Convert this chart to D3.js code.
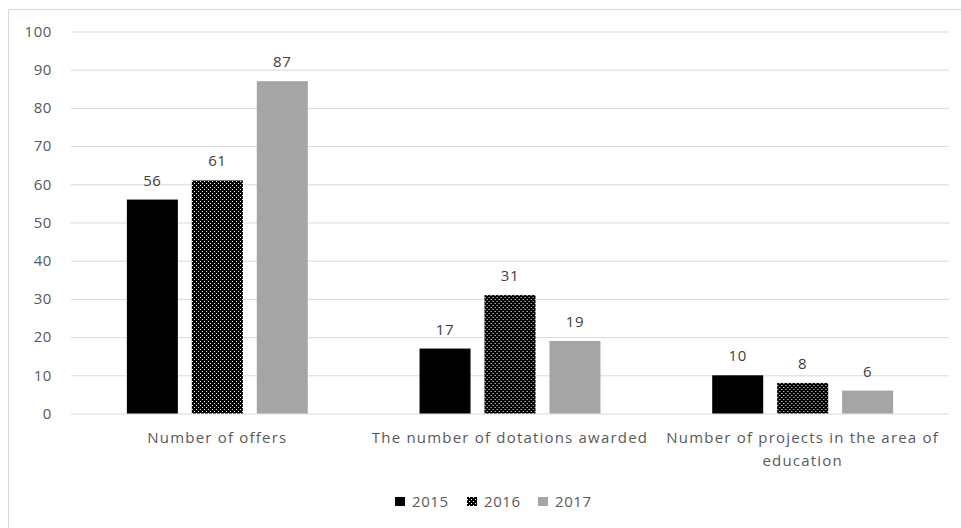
<!DOCTYPE html>
<html><head><meta charset="utf-8">
<script src="https://cdn.jsdelivr.net/npm/d3@7"></script>
<style>body{margin:0;background:#fff}svg text{font-family:"Open Sans","Liberation Sans",Arial,sans-serif;}</style>
</head><body>
<svg id="c" width="961" height="528"></svg>
<script>
const categories = ["Number of offers", "The number of dotations awarded", "Number of projects in the area of education"];
const categoryLines = [["Number of offers"], ["The number of dotations awarded"], ["Number of projects in the area of", "education"]];
const years = ["2015", "2016", "2017"];
const values2015 = [56, 17, 10];
const values2016 = [61, 31, 8];
const values2017 = [87, 19, 6];
const yTicks = [0,10,20,30,40,50,60,70,80,90,100];

const series = [values2015, values2016, values2017];
const fills = ["#000000", "url(#dots)", "#a5a5a5"];
const svg = d3.select("#c");

const defs = svg.append("defs");
const pat = defs.append("pattern").attr("id","dots").attr("patternUnits","userSpaceOnUse").attr("width",4).attr("height",4);
pat.append("rect").attr("width",4).attr("height",4).attr("fill","#000");
pat.append("rect").attr("x",1).attr("y",1).attr("width",1).attr("height",1).attr("fill","#fff");
pat.append("rect").attr("x",3).attr("y",3).attr("width",1).attr("height",1).attr("fill","#fff");

// frame
svg.append("path").attr("d","M8.5,528 L8.5,9.5 L961,9.5").attr("fill","none").attr("stroke","#d9d9d9").attr("stroke-width",1);

const x0 = d3.scaleBand().domain(categories).range([71,949]).paddingInner(0).paddingOuter(0);
const x1 = d3.scaleBand().domain(years).range([0, x0.bandwidth()]).paddingInner(0.215).paddingOuter(0.86);
const y = d3.scaleLinear().domain([0,100]).range([413.5,31.5]);

const fs = "15px";
const ls = "0.6px";
const lsCat = "1.2px";

const yAxis = d3.axisLeft(y).tickValues(yTicks).tickSize(-(949-71)).tickPadding(19);
const gy = svg.append("g").attr("transform","translate(71,0)").call(yAxis);
gy.select(".domain").remove();
gy.selectAll(".tick line").attr("stroke","#d9d9d9");
gy.selectAll(".tick text").attr("fill","#595959").attr("font-size",fs).attr("letter-spacing",ls)
  .attr("font-family","'Open Sans',sans-serif");

const groups = svg.append("g").selectAll("g").data(categories).join("g")
  .attr("transform", d => `translate(${x0(d)},0)`);

groups.each(function(cat, ci){
  const g = d3.select(this);
  years.forEach((yr, si) => {
    const v = series[si][ci];
    g.append("rect").attr("x", x1(yr)).attr("width", x1.bandwidth())
      .attr("y", y(v)).attr("height", y(0)-y(v)).attr("fill", fills[si]);
    g.append("text").attr("x", x1(yr)+x1.bandwidth()/2).attr("y", y(v)-14)
      .attr("text-anchor","middle").attr("fill","#404040").attr("font-size",fs).attr("letter-spacing",ls).text(v);
  });
  categoryLines[ci].forEach((ln, li) => {
    g.append("text").attr("x", x0.bandwidth()/2).attr("y", 443 + li*23)
      .attr("text-anchor","middle").attr("fill","#595959").attr("font-size",fs).attr("letter-spacing",lsCat).text(ln);
  });
});

// legend
const legendX = [395, 467, 538];
const lg = svg.append("g");
years.forEach((yr, i) => {
  lg.append("rect").attr("x", legendX[i]).attr("y", 497).attr("width", 10).attr("height", 9).attr("fill", fills[i]);
  lg.append("text").attr("x", legendX[i]+17).attr("y", 507).attr("fill","#595959").attr("font-size",fs).attr("letter-spacing",ls).text(yr);
});
</script>
</body></html>
